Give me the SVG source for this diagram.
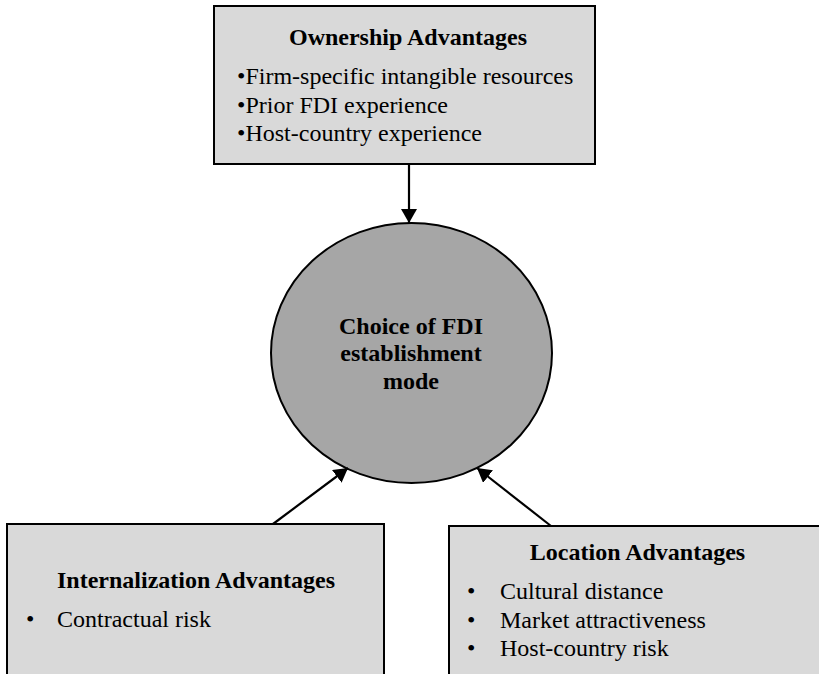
<svg xmlns="http://www.w3.org/2000/svg" width="819" height="674" viewBox="0 0 819 674">
<style>
.box{fill:#d9d9d9;stroke:#000;stroke-width:2}
.circ{fill:#a6a6a6;stroke:#000;stroke-width:2}
text{font-family:"Liberation Serif","Times New Roman",serif;font-size:24px;fill:#000}
.b{font-weight:bold}
.c{text-anchor:middle}
.conn{stroke:#000;stroke-width:2.2;fill:none;marker-end:url(#ah)}
</style>
<defs>
<marker id="ah" viewBox="0 0 14 16" refX="14" refY="8" markerWidth="14" markerHeight="16" markerUnits="userSpaceOnUse" orient="auto">
<path d="M0,0 L14,8 L0,16 z" fill="#000"/>
</marker>
</defs>
<rect width="819" height="674" fill="#fff"/>
<g id="ownership">
<rect class="box" x="214" y="6" width="381" height="158"/>
<text class="b c" x="408" y="45">Ownership Advantages</text>
<text x="237" y="84">•Firm-specific intangible resources</text>
<text x="237" y="113">•Prior FDI experience</text>
<text x="237" y="141">•Host-country experience</text>
</g>
<g id="choice">
<ellipse class="circ" cx="411.5" cy="353" rx="140.5" ry="130"/>
<text class="b c" x="411" y="334">Choice of FDI</text>
<text class="b c" x="411" y="361">establishment</text>
<text class="b c" x="411" y="389">mode</text>
</g>
<g id="internalization">
<rect class="box" x="7" y="524" width="377" height="170"/>
<text class="b" x="57" y="588">Internalization Advantages</text>
<text x="26" y="627">•</text>
<text x="57" y="627">Contractual risk</text>
</g>
<g id="location">
<rect class="box" x="449" y="526" width="380" height="170"/>
<text class="b c" x="637.5" y="560">Location Advantages</text>
<text x="467" y="599">•</text>
<text x="500" y="599">Cultural distance</text>
<text x="467" y="628">•</text>
<text x="500" y="628">Market attractiveness</text>
<text x="467" y="656">•</text>
<text x="500" y="656">Host-country risk</text>
</g>
<g id="connectors">
<line class="conn" x1="409" y1="164" x2="409" y2="223"/>
<line class="conn" x1="273" y1="524" x2="348" y2="468"/>
<line class="conn" x1="551" y1="526" x2="477" y2="468"/>
</g>
</svg>
